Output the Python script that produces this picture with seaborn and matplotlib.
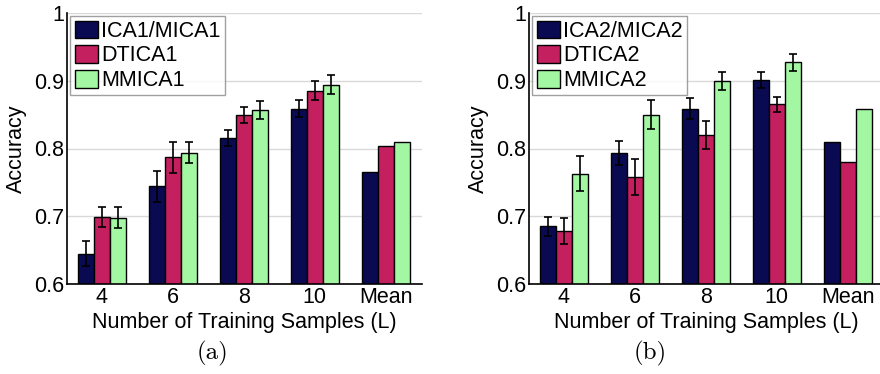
import numpy as np
import pandas as pd
import matplotlib
matplotlib.use("Agg")
import matplotlib.pyplot as plt
import seaborn as sns

CATEGORIES = ["4", "6", "8", "10", "Mean"]

# panel (a)
METHODS_A = ["ICA1/MICA1", "DTICA1", "MMICA1"]
ICA1 = [0.645, 0.744, 0.816, 0.859, 0.766]
DTICA1 = [0.699, 0.787, 0.849, 0.885, 0.804]
MMICA1 = [0.698, 0.794, 0.857, 0.894, 0.810]
ICA1_ERR = [0.019, 0.023, 0.012, 0.012]
DTICA1_ERR = [0.015, 0.023, 0.012, 0.014]
MMICA1_ERR = [0.015, 0.015, 0.013, 0.014]

# panel (b)
METHODS_B = ["ICA2/MICA2", "DTICA2", "MMICA2"]
ICA2 = [0.685, 0.793, 0.859, 0.901, 0.809]
DTICA2 = [0.678, 0.758, 0.820, 0.865, 0.780]
MMICA2 = [0.763, 0.850, 0.900, 0.927, 0.859]
ICA2_ERR = [0.014, 0.018, 0.015, 0.012]
DTICA2_ERR = [0.019, 0.026, 0.020, 0.011]
MMICA2_ERR = [0.026, 0.021, 0.013, 0.012]

COLORS = ["#0a0a52", "#c41f5e", "#a3f7a3"]
FS = 15.5

sns.set_theme(style="white")
plt.rcParams["font.family"] = ["Liberation Sans", "DejaVu Sans"]
plt.rcParams["text.color"] = "black"
plt.rcParams["axes.labelcolor"] = "black"
plt.rcParams["xtick.color"] = "black"
plt.rcParams["ytick.color"] = "black"


def long_frame(methods, series):
    rows = []
    for m, vals in zip(methods, series):
        for c, v in zip(CATEGORIES, vals):
            rows.append({"L": c, "method": m, "acc": v})
    return pd.DataFrame(rows)


def draw_panel(ax, methods, series, errs):
    df = long_frame(methods, series)
    sns.barplot(
        data=df, x="L", y="acc", hue="method", order=CATEGORIES,
        hue_order=methods, palette=COLORS, width=0.68, errorbar=None,
        edgecolor="black", linewidth=1.0, saturation=1, ax=ax, zorder=2,
    )
    for cont, err in zip(ax.containers, errs):
        xs = [b.get_x() + b.get_width() / 2 for b in cont][:len(err)]
        ys = [b.get_height() for b in cont][:len(err)]
        ax.errorbar(xs, ys, yerr=err, fmt="none", ecolor="black",
                    elinewidth=1.2, capsize=3, capthick=1.2, zorder=3)

    ax.set_ylim(0.6, 1.0)
    ax.set_xlim(-0.49, 4.51)
    ax.set_yticks([0.6, 0.7, 0.8, 0.9, 1.0])
    ax.set_yticklabels(["0.6", "0.7", "0.8", "0.9", "1"])
    ax.yaxis.grid(True, color="#d9d9d9", linewidth=1.0, zorder=0)
    ax.set_axisbelow(True)
    ax.tick_params(axis="both", labelsize=FS, length=0, pad=2)
    ax.set_xlabel("Number of Training Samples (L)", fontsize=FS, labelpad=3)
    ax.set_ylabel("Accuracy", fontsize=FS, labelpad=5)
    for side in ["top", "right"]:
        ax.spines[side].set_visible(False)
    for side in ["left", "bottom"]:
        ax.spines[side].set_color("black")
        ax.spines[side].set_linewidth(1.2)

    leg = ax.legend(
        loc="upper left", fontsize=FS, frameon=True, fancybox=False,
        borderaxespad=0.15, handlelength=1.1, handleheight=0.9,
        handletextpad=0.15, labelspacing=0.15, borderpad=0.2,
    )
    leg.set_zorder(5)
    leg.get_frame().set_edgecolor("#888888")
    leg.get_frame().set_linewidth(1.0)


fig = plt.figure(figsize=(8.8, 3.74), dpi=100)
ax_a = fig.add_axes([67 / 880, 1 - 284 / 374, 355 / 880, 271 / 374])
ax_b = fig.add_axes([529 / 880, 1 - 284 / 374, 355 / 880, 271 / 374])

draw_panel(ax_a, METHODS_A, [ICA1, DTICA1, MMICA1], [ICA1_ERR, DTICA1_ERR, MMICA1_ERR])
draw_panel(ax_b, METHODS_B, [ICA2, DTICA2, MMICA2], [ICA2_ERR, DTICA2_ERR, MMICA2_ERR])

fig.text(212 / 880, 1 - 353 / 374, "(a)", family="cmr10", fontsize=18,
         ha="center", va="center")
fig.text(650 / 880, 1 - 353 / 374, "(b)", family="cmr10", fontsize=18,
         ha="center", va="center")

fig.savefig("out.png", dpi=100)
